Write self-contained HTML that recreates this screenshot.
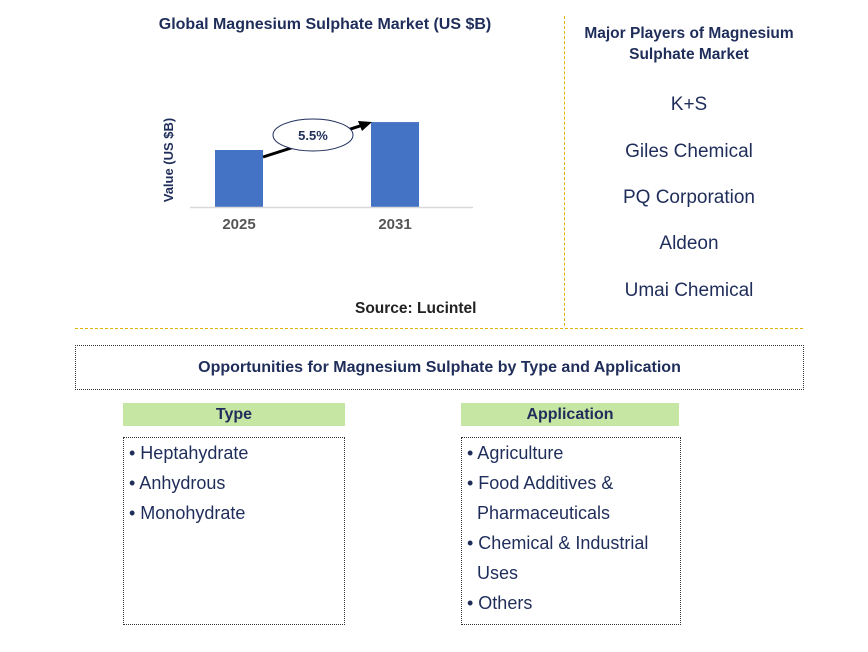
<!DOCTYPE html>
<html><head><meta charset="utf-8"><style>
body{margin:0;width:868px;height:652px;background:#fff;font-family:"Liberation Sans",Arial,sans-serif;position:relative;overflow:hidden}
.a{position:absolute}
.t{color:#1f2d5a;font-weight:bold}
.list{font-size:18px;color:#1f2d5a;line-height:30px}
</style></head><body>
<div class="a t" style="left:100px;top:16px;width:450px;text-align:center;font-size:16px">Global Magnesium Sulphate Market (US $B)</div>
<svg class="a" style="left:0;top:0" width="560" height="330">
<g id="bars"></g>
<line x1="190" y1="207.5" x2="473" y2="207.5" stroke="#d9d9d9" stroke-width="1.5"/>
<text x="0" y="0" transform="translate(173,160) rotate(-90)" text-anchor="middle" font-size="13" font-weight="bold" fill="#1f2d5a">Value (US $B)</text>
<line x1="263" y1="157" x2="363" y2="125" stroke="#000" stroke-width="3"/>
<polygon points="372,122 358,121 362,131" fill="#000"/>
<ellipse cx="313" cy="135" rx="40" ry="16" fill="#fff" stroke="#1f2d5a" stroke-width="1"/>
<text x="313" y="140" text-anchor="middle" font-size="13" font-weight="bold" fill="#1f2d5a">5.5%</text>
</svg>
<div class="a t" style="left:355px;top:300px;font-size:15.5px;color:#222">Source: Lucintel</div>
<div class="a" style="left:564px;top:16px;height:310px;border-left:1px dashed #e0b400"></div>
<div class="a" style="left:75px;top:328px;width:728px;border-top:1px dashed #e0b400"></div>
<div class="a t" style="left:565px;top:23px;width:248px;text-align:center;font-size:15.5px;line-height:21px">Major Players of Magnesium Sulphate Market</div>
<div class="a" style="left:570px;top:94px;width:238px;text-align:center;font-size:19px;color:#1f2d5a">
<div style="height:47px">K+S</div>
<div style="height:46px">Giles Chemical</div>
<div style="height:46px">PQ Corporation</div>
<div style="height:47px">Aldeon</div>
<div>Umai Chemical</div>
</div>
<div class="a t" style="left:75px;top:345px;width:727px;height:43px;border:1px dotted #333;text-align:center;line-height:43px;font-size:16px">Opportunities for Magnesium Sulphate by Type and Application</div>
<div class="a t" style="left:123px;top:403px;width:222px;height:23px;background:#c6e6a3;text-align:center;line-height:23px;font-size:16px">Type</div>
<div class="a list" style="left:123px;top:437px;width:215px;height:186px;border:1px dotted #333;padding-left:5px">
<div>• Heptahydrate</div><div>• Anhydrous</div><div>• Monohydrate</div></div>
<div class="a t" style="left:461px;top:403px;width:218px;height:23px;background:#c6e6a3;text-align:center;line-height:23px;font-size:16px">Application</div>
<div class="a list" style="left:461px;top:437px;width:213px;height:186px;border:1px dotted #333;padding-left:5px">
<div>• Agriculture</div><div>• Food Additives &amp;</div><div style="padding-left:10px">Pharmaceuticals</div><div>• Chemical &amp; Industrial</div><div style="padding-left:10px">Uses</div><div>• Others</div></div>
<script>
const categories=["2025","2031"];
const values=[1.0,1.49];
const base=207, pxPerUnit=57;
const xs=c=>215+categories.indexOf(c)*156;
const y=v=>base-v*pxPerUnit;
const g=document.getElementById('bars');
const ns="http://www.w3.org/2000/svg";
categories.forEach((c,i)=>{
 const r=document.createElementNS(ns,'rect');
 r.setAttribute('x',xs(c));r.setAttribute('width',48);
 r.setAttribute('y',y(values[i]));r.setAttribute('height',base-y(values[i]));
 r.setAttribute('fill','#4472c4');
 
 
 g.appendChild(r);
 const t=document.createElementNS(ns,'text');
 t.setAttribute('x',xs(c)+24);t.setAttribute('y',229);
 t.setAttribute('text-anchor','middle');t.setAttribute('font-size','15');
 t.setAttribute('font-weight','bold');t.setAttribute('fill','#555');
 t.textContent=c;
 
 
 g.appendChild(t);
});
</script>
</body></html>
